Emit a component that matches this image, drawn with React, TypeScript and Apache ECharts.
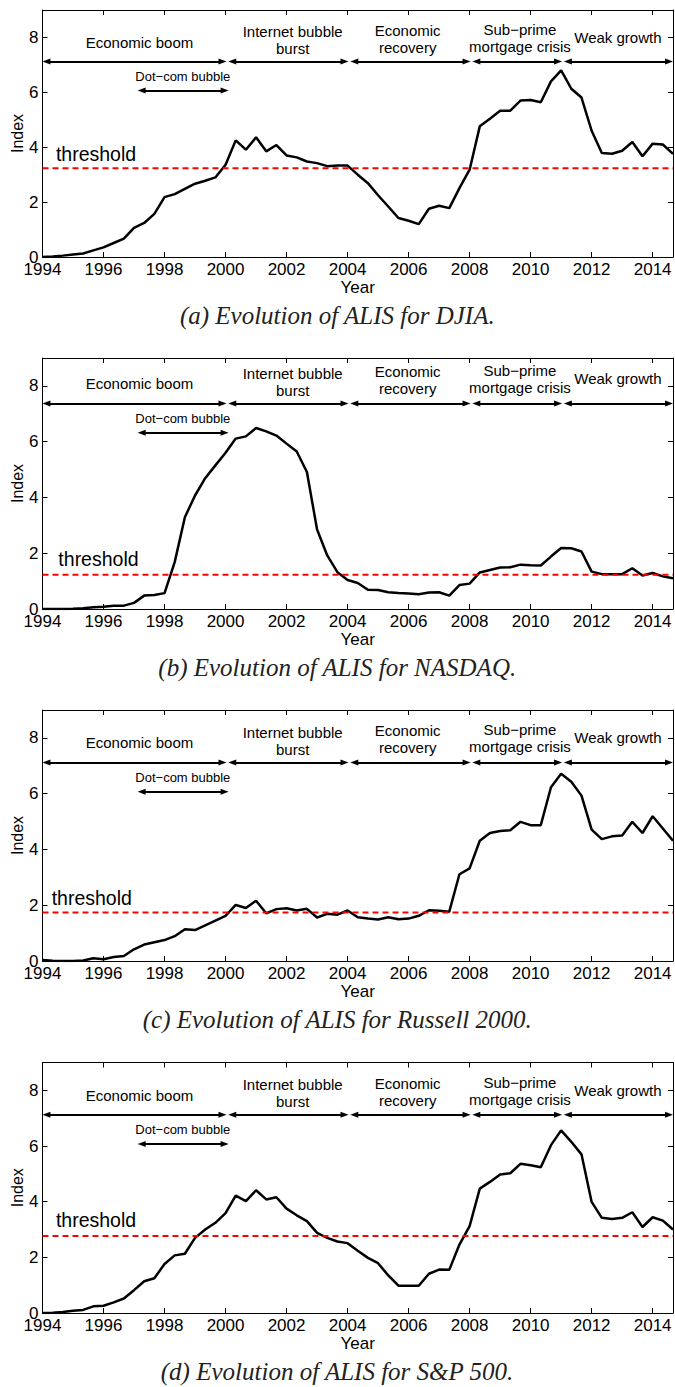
import React, { useEffect, useRef } from "react";
import * as echarts from "echarts";

// ---------- data ----------
const YEAR_START = 1994;
const YEAR_STEP = 1 / 3; // one observation every four months
const YEAR_END = 1994 + 62 / 3;
const xTickLabels = ["1994", "1996", "1998", "2000", "2002", "2004", "2006", "2008", "2010", "2012", "2014"];
const yTickLabels = ["0", "2", "4", "6", "8"];

const djia = [
  0.0, 0.02, 0.05, 0.09, 0.13, 0.24, 0.35, 0.51, 0.67, 1.06,
  1.24, 1.57, 2.18, 2.29, 2.48, 2.67, 2.78, 2.9, 3.36, 4.25,
  3.91, 4.36, 3.85, 4.08, 3.7, 3.63, 3.48, 3.42, 3.31, 3.33,
  3.33, 3.0, 2.69, 2.25, 1.84, 1.42, 1.32, 1.2, 1.76, 1.87,
  1.78, 2.51, 3.18, 4.76, 5.04, 5.33, 5.33, 5.7, 5.72, 5.64,
  6.4, 6.8, 6.13, 5.81, 4.6, 3.79, 3.76, 3.87, 4.19, 3.67,
  4.13, 4.1, 3.76,
];
const nasdaq = [
  0.0, 0.0, 0.0, 0.01, 0.03, 0.06, 0.08, 0.12, 0.12, 0.22,
  0.48, 0.5, 0.57, 1.68, 3.29, 4.07, 4.69, 5.15, 5.6, 6.11,
  6.19, 6.49, 6.37, 6.22, 5.93, 5.65, 4.91, 2.85, 1.92, 1.32,
  1.04, 0.93, 0.69, 0.68, 0.6, 0.57, 0.56, 0.53, 0.59, 0.6,
  0.48, 0.86, 0.91, 1.31, 1.4, 1.49, 1.5, 1.59, 1.57, 1.56,
  1.88, 2.19, 2.18, 2.06, 1.34, 1.25, 1.25, 1.25, 1.46, 1.2,
  1.29, 1.17, 1.1,
];
const russell = [
  0.04, 0.01, 0.0, 0.0, 0.02, 0.1, 0.06, 0.14, 0.18, 0.42,
  0.59, 0.67, 0.75, 0.89, 1.14, 1.11, 1.28, 1.45, 1.62, 2.01,
  1.9, 2.16, 1.71, 1.86, 1.89, 1.81, 1.87, 1.56, 1.69, 1.66,
  1.81, 1.57, 1.52, 1.49, 1.57, 1.5, 1.52, 1.62, 1.82, 1.8,
  1.77, 3.11, 3.32, 4.31, 4.59, 4.66, 4.69, 4.99, 4.87, 4.87,
  6.23, 6.71, 6.43, 5.93, 4.71, 4.37, 4.47, 4.5, 4.99, 4.59,
  5.19, 4.75, 4.31,
];
const sp500 = [
  0.0, 0.01, 0.04, 0.08, 0.11, 0.24, 0.26, 0.38, 0.52, 0.82,
  1.14, 1.25, 1.76, 2.07, 2.13, 2.7, 3.0, 3.24, 3.59, 4.22,
  4.02, 4.41, 4.08, 4.16, 3.75, 3.51, 3.3, 2.88, 2.7, 2.57,
  2.51, 2.24, 1.98, 1.79, 1.35, 0.98, 0.98, 0.98, 1.41, 1.56,
  1.55, 2.46, 3.12, 4.47, 4.71, 4.98, 5.02, 5.36, 5.31, 5.24,
  6.03, 6.56, 6.15, 5.7, 3.99, 3.42, 3.38, 3.42, 3.62, 3.09,
  3.44, 3.32, 3.0,
];
const panelValues = [djia, nasdaq, russell, sp500];
const thresholds = [3.23, 1.23, 1.74, 2.77];
const captions = [
  "(a) Evolution of ALIS for DJIA.",
  "(b) Evolution of ALIS for NASDAQ.",
  "(c) Evolution of ALIS for Russell 2000.",
  "(d) Evolution of ALIS for S&P 500.",
];

// period annotations (data coordinates)
const periodNames = ["Economic boom", "Internet bubble\nburst", "Economic\nrecovery", "Sub\u2212prime\nmortgage crisis", "Weak growth"];
const periodTextX = [1997.18, 2002.2, 2005.97, 2009.65, 2012.86];
const periodTextY = [7.83, 7.9, 7.95, 7.99, 8.0];
const periodStart = [1994.0, 2000.09, 2004.09, 2008.09, 2011.09];
const periodEnd = [2000.03, 2004.03, 2008.03, 2011.03, YEAR_END];
const periodArrowY = 7.12;
const bubbleName = "Dot\u2212com bubble";
const bubbleStart = 1997.12;
const bubbleEnd = 2000.1;
const bubbleArrowY = 6.07;
const bubbleTextX = 1998.6;
const bubbleTextY = 6.58;
const thresholdTextX = [1994.44, 1994.52, 1994.3, 1994.44];
const thresholdTextGap = [0.53, 0.56, 0.51, 0.56];
const annotationShift = [0, 0.25, 0, 0];

// ---------- layout ----------
const W = 675;
const H = 1387;
const gridTop = [10, 358, 710, 1062.5];
const gridHeight = [247, 251, 251, 250.5];
const gridLeft = 42.5;
const gridRight = 2;
const captionGap = 60;
const headInset = 0.13; // half arrow-head length in years
const FONT = '"Liberation Sans", Arial, Helvetica, sans-serif';

function buildOption() {
  const grid: any[] = [];
  const xAxis: any[] = [];
  const yAxis: any[] = [];
  const series: any[] = [];
  const graphic: any[] = [];

  const axisLine = { show: true, onZero: false, lineStyle: { color: "#000", width: 1 } };
  const axisTick = { show: true, inside: true, length: 5, lineStyle: { color: "#000", width: 1 } };

  panelValues.forEach((vals, i) => {
    grid.push({ left: gridLeft, right: gridRight, top: gridTop[i], height: gridHeight[i], outerBoundsMode: "none" });

    xAxis.push({
      type: "value", gridIndex: i, position: "bottom", min: YEAR_START, max: YEAR_END, interval: 2,
      axisLine, axisTick, splitLine: { show: false },
      axisLabel: {
        color: "#000", fontSize: 17, fontFamily: FONT, margin: 4,
        formatter: (v: number) => (xTickLabels.indexOf(String(v)) >= 0 ? String(v) : ""),
      },
      name: "Year", nameLocation: "middle", nameGap: 22, nameMoveOverlap: false,
      nameTextStyle: { color: "#000", fontSize: 17, fontFamily: FONT },
    });
    xAxis.push({
      type: "value", gridIndex: i, position: "top", min: YEAR_START, max: YEAR_END, interval: 2,
      axisLine, axisTick, splitLine: { show: false }, axisLabel: { show: false },
    });
    yAxis.push({
      type: "value", gridIndex: i, position: "left", min: 0, max: 9, interval: 2,
      axisLine, axisTick, splitLine: { show: false },
      axisLabel: {
        color: "#000", fontSize: 17, fontFamily: FONT, margin: 4,
        formatter: (v: number) => (yTickLabels.indexOf(String(v)) >= 0 ? String(v) : ""),
      },
      name: "Index", nameLocation: "middle", nameGap: 17, nameRotate: 90, nameMoveOverlap: false,
      nameTextStyle: { color: "#000", fontSize: 16, fontFamily: FONT },
    });
    yAxis.push({
      type: "value", gridIndex: i, position: "right", min: 0, max: 9, interval: 2,
      axisLine, axisTick, splitLine: { show: false }, axisLabel: { show: false },
    });

    const shift = annotationShift[i];
    const arrows: any[] = periodStart.map((s, k) => [
      { coord: [s + headInset, periodArrowY + shift] },
      { coord: [periodEnd[k] - headInset, periodArrowY + shift] },
    ]);
    arrows.push([
      { coord: [bubbleStart + headInset, bubbleArrowY + shift] },
      { coord: [bubbleEnd - headInset, bubbleArrowY + shift] },
    ]);

    const texts: any[] = periodNames.map((name, k) => ({
      coord: [periodTextX[k], periodTextY[k] + shift], value: 0,
      label: { formatter: name },
    }));
    texts.push({
      coord: [bubbleTextX, bubbleTextY + shift], value: 0,
      label: { formatter: bubbleName, fontSize: 13 },
    });
    texts.push({
      coord: [thresholdTextX[i], thresholds[i] + thresholdTextGap[i]], value: 0,
      label: { formatter: "threshold", fontSize: 19.5, align: "left" },
    });

    series.push({
      type: "line", xAxisIndex: 2 * i, yAxisIndex: 2 * i,
      data: vals.map((v, k) => [YEAR_START + k * YEAR_STEP, v]),
      symbol: "none", silent: true, z: 3,
      lineStyle: { color: "#000", width: 2.5 },
      itemStyle: { color: "#000" },
      markLine: {
        silent: true, animation: false,
        symbol: ["triangle", "triangle"], symbolSize: [6, 8],
        label: { show: false },
        itemStyle: { color: "#000" },
        lineStyle: { color: "#000", width: 1.8, type: "solid" },
        emphasis: { disabled: true },
        data: arrows,
      },
      markPoint: {
        silent: true, animation: false,
        symbol: "rect", symbolSize: 1,
        itemStyle: { color: "rgba(0,0,0,0)" },
        label: { show: true, position: "inside", color: "#000", fontFamily: FONT, fontSize: 15, lineHeight: 17 },
        emphasis: { disabled: true },
        data: texts,
      },
    });
    series.push({
      type: "line", xAxisIndex: 2 * i, yAxisIndex: 2 * i,
      data: [[YEAR_START, thresholds[i]], [YEAR_END, thresholds[i]]],
      symbol: "none", silent: true, z: 4,
      lineStyle: { color: "#ff0000", width: 2, type: [6, 4] },
    });

    graphic.push({
      type: "text", left: "center",
      top: gridTop[i] + gridHeight[i] + captionGap - 14,
      style: {
        text: captions[i],
        font: 'italic 25px "Liberation Serif", "Times New Roman", serif',
        fill: "#222",
      },
    });
  });

  return { animation: false, backgroundColor: "#fff", grid, xAxis, yAxis, series, graphic };
}

export default function App() {
  const ref = useRef<HTMLDivElement>(null);
  useEffect(() => {
    if (!ref.current) return;
    const chart = echarts.init(ref.current, null, { renderer: "svg" });
    chart.setOption(buildOption() as any);
    return () => chart.dispose();
  }, []);
  return <div ref={ref} style={{ position: "absolute", left: 0, top: 0, width: W, height: H }} />;
}
